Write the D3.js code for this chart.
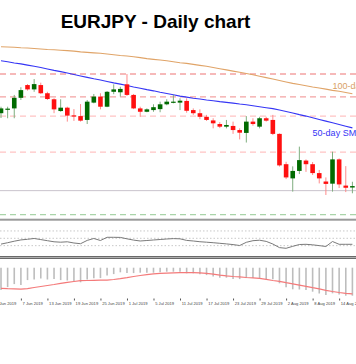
<!DOCTYPE html>
<html><head><meta charset="utf-8">
<script src="https://cdn.jsdelivr.net/npm/d3@7/dist/d3.min.js"></script>
<style>html,body{margin:0;padding:0;background:#fff;overflow:hidden}svg{display:block}</style>
</head><body><svg id="c" width="356" height="364"></svg>
<script>
const title = "EURJPY - Daily chart";
const dates = ["4 Jun","5 Jun","6 Jun","7 Jun","10 Jun","11 Jun","12 Jun","13 Jun","14 Jun","17 Jun","18 Jun","19 Jun","20 Jun","21 Jun","24 Jun","25 Jun","26 Jun","27 Jun","28 Jun",
"1 Jul","2 Jul","3 Jul","4 Jul","5 Jul","8 Jul","9 Jul","10 Jul","11 Jul","12 Jul","15 Jul","16 Jul","17 Jul","18 Jul","19 Jul","22 Jul","23 Jul","24 Jul","25 Jul","26 Jul","29 Jul","30 Jul","31 Jul",
"1 Aug","2 Aug","5 Aug","6 Aug","7 Aug","8 Aug","9 Aug","12 Aug","13 Aug","14 Aug","15 Aug","16 Aug"];
const open  = [121.22,121.38,121.42,121.86,122.39,122.21,122.39,122.05,121.80,121.31,121.45,121.13,121.10,120.94,121.66,121.91,121.49,122.11,122.09,122.42,121.98,121.42,121.28,121.35,121.39,121.59,121.66,121.66,121.73,121.35,121.22,121.07,120.92,120.77,120.66,120.69,120.52,120.40,120.87,120.66,121.01,120.94,120.36,119.10,118.51,118.82,119.25,119.10,118.73,118.38,118.29,119.30,118.21,118.13];
const high  = [121.49,121.49,121.98,122.30,122.43,122.64,122.49,122.11,121.84,121.80,121.49,121.39,121.60,121.77,122.02,122.05,122.14,122.42,122.32,122.85,122.02,121.49,121.42,121.59,121.70,121.80,121.98,121.84,121.84,121.42,121.38,121.15,121.01,120.85,120.94,120.87,120.59,121.10,121.01,121.07,121.07,121.15,120.38,119.20,119.01,119.83,119.30,119.19,118.86,118.55,119.62,119.34,119.02,118.37];
const low   = [121.02,121.01,121.01,121.77,122.16,122.11,122.02,121.77,121.22,121.28,120.87,120.90,120.87,120.77,121.63,121.38,121.47,122.01,121.91,121.94,121.39,121.07,121.26,121.28,121.26,121.55,121.63,121.35,121.24,121.15,120.97,120.90,120.59,120.60,120.59,120.36,120.13,120.00,120.70,120.59,120.87,120.31,119.00,118.48,117.96,118.69,118.78,118.65,118.30,117.82,117.96,118.11,117.94,117.89];
const close = [121.42,121.41,121.86,122.18,122.21,122.43,122.05,121.81,121.38,121.45,121.12,121.10,120.91,121.70,121.91,121.49,122.11,122.21,122.23,121.98,121.42,121.28,121.38,121.47,121.59,121.70,121.70,121.74,121.32,121.22,121.07,120.94,120.80,120.66,120.73,120.52,120.41,120.87,120.77,121.01,120.91,120.36,119.05,118.55,118.82,119.27,119.10,118.73,118.51,118.28,119.30,118.26,118.12,118.19];
const sma50 = [123.40,123.36,123.31,123.27,123.22,123.17,123.12,123.06,123.00,122.95,122.89,122.83,122.77,122.71,122.65,122.60,122.54,122.48,122.43,122.37,122.31,122.26,122.20,122.15,122.09,122.04,121.99,121.93,121.89,121.84,121.81,121.77,121.74,121.70,121.67,121.64,121.60,121.57,121.53,121.49,121.45,121.41,121.35,121.29,121.23,121.16,121.10,121.03,120.96,120.89,120.82,120.75,120.68,120.61];
const sma100 = [123.98,123.97,123.96,123.94,123.93,123.91,123.89,123.87,123.86,123.84,123.82,123.80,123.77,123.75,123.73,123.71,123.68,123.65,123.62,123.60,123.57,123.53,123.49,123.46,123.43,123.40,123.36,123.32,123.29,123.25,123.21,123.17,123.12,123.07,123.02,122.97,122.92,122.87,122.82,122.76,122.70,122.64,122.58,122.52,122.46,122.41,122.36,122.31,122.27,122.22,122.17,122.13,122.08,122.03];
const rsi = [34.2,38.0,42.1,45.6,47.3,49.5,46.5,43.5,40.5,39.4,40.5,37.2,35.3,44.3,49.5,44.0,52.7,52.7,52.4,48.6,45.1,42.7,44.0,45.4,46.7,48.1,49.2,48.6,44.3,42.7,40.7,39.4,38.0,36.4,34.8,32.9,30.4,39.1,43.5,44.8,41.6,34.5,24.7,22.8,28.2,33.1,33.7,32.3,30.1,27.7,41.3,33.7,33.7,33.7];
const macdHist = [-1.12,-0.97,-0.82,-0.87,-0.62,-0.59,-0.54,-0.59,-0.57,-0.62,-0.64,-0.67,-0.73,-0.59,-0.53,-0.52,-0.39,-0.32,-0.23,-0.27,-0.27,-0.25,-0.25,-0.25,-0.23,-0.20,-0.20,-0.20,-0.28,-0.28,-0.33,-0.37,-0.44,-0.50,-0.50,-0.57,-0.57,-0.52,-0.52,-0.53,-0.57,-0.58,-0.78,-0.98,-1.08,-1.09,-1.12,-1.20,-1.29,-1.37,-1.28,-1.34,-1.40,-1.40];
const macdSignal = [-1.03,-1.05,-1.06,-1.07,-1.05,-0.99,-0.94,-0.89,-0.84,-0.78,-0.73,-0.69,-0.65,-0.64,-0.63,-0.62,-0.62,-0.59,-0.55,-0.50,-0.44,-0.39,-0.35,-0.31,-0.28,-0.27,-0.26,-0.25,-0.25,-0.25,-0.26,-0.28,-0.32,-0.37,-0.41,-0.44,-0.46,-0.49,-0.51,-0.53,-0.58,-0.64,-0.68,-0.75,-0.81,-0.87,-0.93,-1.00,-1.06,-1.13,-1.19,-1.24,-1.28,-1.31];
const resistLevels = [122.85, 121.90];
const minorLevels = [121.10, 119.60];
const supportLevel = 118.00;
const lowerLevel = 117.00;
const rsiLevels = [70, 50, 30];
const tickLabels = ["3 Jun 2019","7 Jun 2019","13 Jun 2019","19 Jun 2019","25 Jun 2019","1 Jul 2019","5 Jul 2019","11 Jul 2019","17 Jul 2019","23 Jul 2019","29 Jul 2019","2 Aug 2019","8 Aug 2019","14 Aug 2019"];
const tickIndex = [-1,3,7,11,15,19,23,27,31,35,39,43,47,51];
const smaLabels = ["100-day SMA", "50-day SMA"];

const W = 356;
const svg = d3.select("#c");
const x = d3.scaleLinear().domain([0, 53]).range([1, 352.4]);
const y = d3.scaleLinear().domain([117.0, 122.85]).range([214.7, 74]);
const yR = d3.scaleLinear().domain([0, 100]).range([256.7, 219.9]);
const yM = d3.scaleLinear().domain([0, -1.5]).range([267.7, 297.7]);

svg.append("defs").append("clipPath").attr("id","mainclip").append("rect").attr("x",0).attr("y",0).attr("width",W).attr("height",218);

const main = svg.append("g").attr("clip-path","url(#mainclip)");
const hl = (g, v, col, dash, w) => g.append("line").attr("x1",0).attr("x2",W).attr("y1",y(v)).attr("y2",y(v))
  .attr("stroke",col).attr("stroke-width",w).attr("stroke-dasharray",dash);
resistLevels.forEach(v => hl(main, v, "#f4a3a3", "6,4", 1.3));
minorLevels.forEach(v => hl(main, v, "#ffc4c4", "6,4", 1.3));
hl(main, supportLevel, "#c9c3cc", null, 1);
hl(main, lowerLevel, "#a9d4a9", "6,4", 1.3);

const idx = d3.range(dates.length);
main.append("path").datum(idx).attr("fill","none").attr("stroke","#e0a468").attr("stroke-width",1.1)
  .attr("d", d3.line().x(i=>x(i)).y(i=>y(sma100[i])));
main.append("path").datum(idx).attr("fill","none").attr("stroke","#3535f5").attr("stroke-width",1.1)
  .attr("d", d3.line().x(i=>x(i)).y(i=>y(sma50[i])));

main.append("text").attr("x", x(50)).attr("y", y(sma100[50]) - 1).attr("fill","#d9a066")
  .attr("font-family","Liberation Sans, Arial, sans-serif").attr("font-size",9).text(smaLabels[0]);
main.append("text").attr("x", x(47)).attr("y", y(sma50[47]) + 18).attr("fill","#3535f5")
  .attr("font-family","Liberation Sans, Arial, sans-serif").attr("font-size",9).text(smaLabels[1]);

const bw = 4.6;
const cg = main.append("g");
idx.forEach(i => {
  const up = close[i] >= open[i];
  cg.append("line").attr("x1",x(i)).attr("x2",x(i)).attr("y1",y(high[i])).attr("y2",y(low[i]))
    .attr("stroke", up ? "#7fae7f" : "#ff8a8a").attr("stroke-width",1);
  const top = y(Math.max(open[i], close[i])), bot = y(Math.min(open[i], close[i]));
  cg.append("rect").attr("x", x(i)-bw/2).attr("y", top).attr("width", bw).attr("height", Math.max(1.2, bot-top))
    .attr("fill", up ? "#006a00" : "#ff1010");
});

svg.append("text").attr("x",155.5).attr("y",27.5).attr("text-anchor","middle")
  .attr("font-family","Liberation Sans, Arial, sans-serif").attr("font-weight","bold").attr("font-size",19)
  .attr("fill","#000").text(title);

// separators
svg.append("rect").attr("x",0).attr("y",218.7).attr("width",W).attr("height",2).attr("fill","#9a9a9a");
svg.append("rect").attr("x",0).attr("y",256).attr("width",W).attr("height",3).attr("fill","#b0b0b0");
[256.5, 258.5].forEach(v => svg.append("line").attr("x1",0).attr("x2",W).attr("y1",v).attr("y2",v).attr("stroke","#6a6a6a").attr("stroke-width",1));

// RSI panel
rsiLevels.forEach(v => svg.append("line").attr("x1",0).attr("x2",W).attr("y1",yR(v)).attr("y2",yR(v))
  .attr("stroke","#c8c8c8").attr("stroke-width",1).attr("stroke-dasharray","1.5,2"));
svg.append("path").datum(idx).attr("fill","none").attr("stroke","#7a7a7a").attr("stroke-width",1)
  .attr("d", d3.line().x(i=>x(i)).y(i=>yR(rsi[i])));

// MACD panel
svg.append("g").selectAll("line").data(idx).join("line")
  .attr("x1",i=>x(i)).attr("x2",i=>x(i)).attr("y1",yM(0)).attr("y2",i=>yM(macdHist[i]))
  .attr("stroke","#bdbdbd").attr("stroke-width",1.6);
svg.append("path").datum(idx).attr("fill","none").attr("stroke","#f47a7a").attr("stroke-width",1.2)
  .attr("d", d3.line().x(i=>x(i)).y(i=>yM(macdSignal[i])));

// date axis
const xa = d3.axisBottom(x).tickValues(tickIndex).tickSize(2).tickFormat((d,k)=>tickLabels[k]);
const ag = svg.append("g").attr("transform","translate(0,298.5)").call(xa);
ag.select(".domain").remove();
ag.selectAll(".tick line").attr("stroke","#555");
ag.selectAll(".tick text").attr("text-anchor","start").attr("x",1.2).attr("y",3.5).attr("dy","0.71em")
  .attr("font-family","Liberation Sans, Arial, sans-serif").attr("font-size",4.1).attr("fill","#444");
</script></body></html>
